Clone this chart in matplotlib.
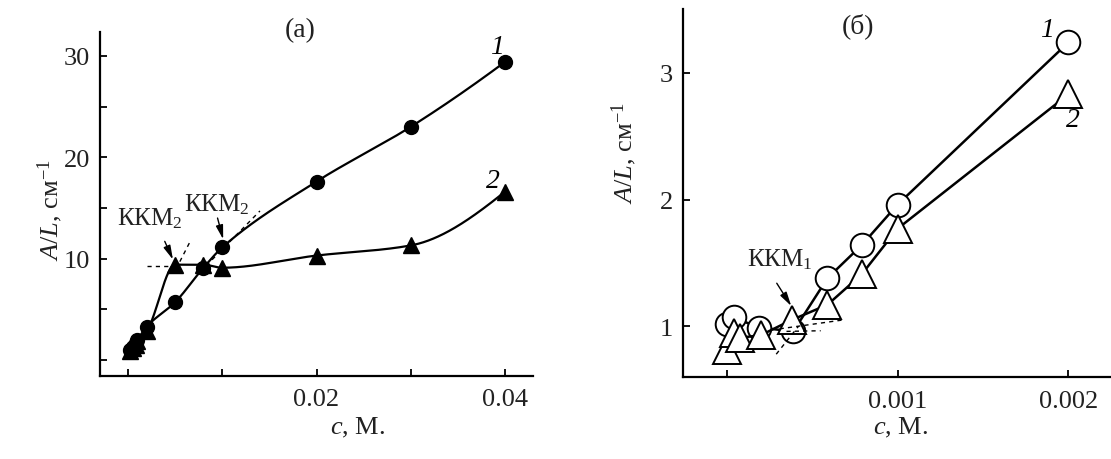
import numpy as np
import matplotlib
matplotlib.use("Agg")
import matplotlib.pyplot as plt

plt.rcParams['font.family'] = ['Liberation Serif', 'DejaVu Serif']
plt.rcParams['mathtext.fontset'] = 'custom'
plt.rcParams['mathtext.rm'] = 'Liberation Serif'
plt.rcParams['mathtext.it'] = 'Liberation Serif:italic'

# ---------------- data: panel (a) ----------------
c_a1 = [0.0002, 0.0005, 0.0008, 0.001, 0.002, 0.005, 0.008, 0.01, 0.02, 0.03, 0.04]
y_a1 = [1.0, 1.3, 1.7, 2.0, 3.3, 5.7, 9.1, 11.1, 17.6, 23.0, 29.4]
c_a2 = [0.0002, 0.0005, 0.0008, 0.001, 0.002, 0.005, 0.008, 0.01, 0.02, 0.03, 0.04]
y_a2 = [0.9, 1.2, 1.5, 1.9, 2.9, 9.4, 9.4, 9.1, 10.3, 11.3, 16.6]

# guide (dashed) lines, panel (a)
guide_a_x = [[0.002, 0.0048], [0.0055, 0.0066], [0.0083, 0.014]]
guide_a_y = [[9.3, 9.3], [9.7, 11.7], [9.3, 14.7]]

# ---------------- data: panel (б) ----------------
c_b1 = [0.0, 0.00004, 0.00019, 0.00039, 0.00059, 0.00079, 0.001, 0.002]
y_b1 = [1.02, 1.07, 0.99, 0.96, 1.38, 1.64, 1.96, 3.24]
c_b2 = [0.0, 0.00004, 0.00008, 0.0002, 0.00038, 0.00059, 0.00079, 0.001, 0.002]
y_b2 = [0.81, 0.95, 0.91, 0.93, 1.05, 1.17, 1.41, 1.77, 2.83]

guide_b_x = [[0.00029, 0.00042], [0.00031, 0.00068], [0.00035, 0.00055]]
guide_b_y = [[0.78, 1.0], [0.98, 1.05], [0.96, 0.965]]

xticks_a = [0, 0.01, 0.02, 0.03, 0.04]
xticklabels_a = ['', '', '0.02', '', '0.04']
yticks_a = [0, 5, 10, 15, 20, 25, 30]
yticklabels_a = ['', '', '10', '', '20', '', '30']
xticks_b = [0, 0.001, 0.002]
xticklabels_b = ['', '0.001', '0.002']
yticks_b = [1, 2, 3]
yticklabels_b = ['1', '2', '3']


def pchip(x, y, n=3000):
    x = np.asarray(x, float)
    y = np.asarray(y, float)
    h = np.diff(x)
    d = np.diff(y) / h
    m = np.zeros_like(y)
    for k in range(1, len(x) - 1):
        if d[k - 1] * d[k] > 0:
            w1 = 2 * h[k] + h[k - 1]
            w2 = h[k] + 2 * h[k - 1]
            m[k] = (w1 + w2) / (w1 / d[k - 1] + w2 / d[k])
    m[0] = d[0]
    m[-1] = ((2 * h[-1] + h[-2]) * d[-1] - h[-1] * d[-2]) / (h[-1] + h[-2])
    xs = np.linspace(x[0], x[-1], n)
    idx = np.clip(np.searchsorted(x, xs) - 1, 0, len(h) - 1)
    t = (xs - x[idx]) / h[idx]
    h00 = 2 * t**3 - 3 * t**2 + 1
    h10 = t**3 - 2 * t**2 + t
    h01 = -2 * t**3 + 3 * t**2
    h11 = t**3 - t**2
    ys = h00 * y[idx] + h10 * h[idx] * m[idx] + h01 * y[idx + 1] + h11 * h[idx] * m[idx + 1]
    return xs, ys


W, H = 1111, 460
fig = plt.figure(figsize=(W / 100, H / 100), dpi=100)

FS = 19
TXT = '#222222'

def style(ax):
    for s in ['top', 'right']:
        ax.spines[s].set_visible(False)
    for s in ['left', 'bottom']:
        ax.spines[s].set_linewidth(1.6)
    ax.tick_params(direction='in', length=5, width=1.3, labelsize=FS, pad=7,
                   labelcolor=TXT)
    ax.tick_params(axis='x', pad=9)

# ---------------- panel (a) ----------------
axa = fig.add_axes([100 / W, 1 - 377 / H, 433 / W, 344 / H])
style(axa)
axa.set_xlim(-0.00297, 0.04297)
axa.set_ylim(-1.58, 32.35)
axa.set_xticks(xticks_a)
axa.set_xticklabels(xticklabels_a)
axa.set_yticks(yticks_a)
axa.set_yticklabels(yticklabels_a)

xs, ys = pchip(c_a1, y_a1)
axa.plot(xs, ys, color='black', lw=1.6, zorder=2)
xs, ys = pchip(c_a2, y_a2)
axa.plot(xs, ys, color='black', lw=1.6, zorder=2)
axa.plot(c_a1, y_a1, 'o', color='black', ms=10, zorder=3)
axa.plot(c_a2, y_a2, '^', color='black', ms=11, zorder=3)
for gx, gy in zip(guide_a_x, guide_a_y):
    axa.plot(gx, gy, color='black', lw=1.0, ls=(0, (3, 3)), zorder=1)

arrow = dict(arrowstyle='-|>,head_length=0.7,head_width=0.18', color='black',
             lw=1.0, mutation_scale=12, shrinkA=0, shrinkB=0)
axa.annotate('', xy=(0.00477, 9.9), xytext=(0.0039, 11.7), arrowprops=arrow)
axa.text(0.00233, 14.0, 'ККМ$_2$', fontsize=18, ha='center', va='center', color=TXT)
axa.annotate('', xy=(0.0101, 11.9), xytext=(0.0095, 14.0), arrowprops=arrow)
axa.text(0.00944, 15.4, 'ККМ$_2$', fontsize=18, ha='center', va='center', color=TXT)

fig.text(497 / W, 1 - 47 / H, '1', fontsize=20, style='italic', ha='center', va='center')
fig.text(493 / W, 1 - 181 / H, '2', fontsize=20, style='italic', ha='center', va='center')
fig.text(300 / W, 1 - 31 / H, '(a)', fontsize=20, ha='center', va='center', color=TXT)
fig.text(50 / W, 1 - 210 / H, '$A/L$, см$^{-1}$', fontsize=FS, rotation=90,
         ha='center', va='center', color=TXT)
fig.text(358 / W, 1 - 428 / H, '$c$, М.', fontsize=FS, ha='center', va='center', color=TXT)

# ---------------- panel (б) ----------------
axb = fig.add_axes([682.7 / W, 1 - 378 / H, 427.3 / W, 368 / H])
style(axb)
axb.set_xlim(-0.0002576, 0.002244)
axb.set_ylim(0.6, 3.504)
axb.set_xticks(xticks_b)
axb.set_xticklabels(xticklabels_b)
axb.set_yticks(yticks_b)
axb.set_yticklabels(yticklabels_b)

axb.plot(c_b1, y_b1, '-', color='black', lw=1.8, zorder=2)
axb.plot(c_b1, y_b1, 'o', mfc='white', mec='black', mew=1.4, ms=17, zorder=3)
axb.plot(c_b2, y_b2, '-', color='black', lw=1.8, zorder=4)
axb.plot(c_b2, y_b2, '^', mfc='white', mec='black', mew=1.4, ms=20, zorder=5)
for gx, gy in zip(guide_b_x, guide_b_y):
    axb.plot(gx, gy, color='black', lw=1.0, ls=(0, (3, 3)), zorder=6)

axb.annotate('', xy=(0.000378, 1.16), xytext=(0.000293, 1.34), arrowprops=arrow)
axb.text(0.000312, 1.53, 'ККМ$_1$', fontsize=18, ha='center', va='center', color=TXT)

fig.text(1047 / W, 1 - 31 / H, '1', fontsize=20, style='italic', ha='center', va='center')
fig.text(1073 / W, 1 - 121 / H, '2', fontsize=20, style='italic', ha='center', va='center')
fig.text(858 / W, 1 - 26 / H, '(б)', fontsize=20, ha='center', va='center', color=TXT)
fig.text(624 / W, 1 - 153 / H, '$A/L$, см$^{-1}$', fontsize=FS, rotation=90,
         ha='center', va='center', color=TXT)
fig.text(901 / W, 1 - 428 / H, '$c$, М.', fontsize=FS, ha='center', va='center', color=TXT)

fig.savefig('out.png', dpi=100)
